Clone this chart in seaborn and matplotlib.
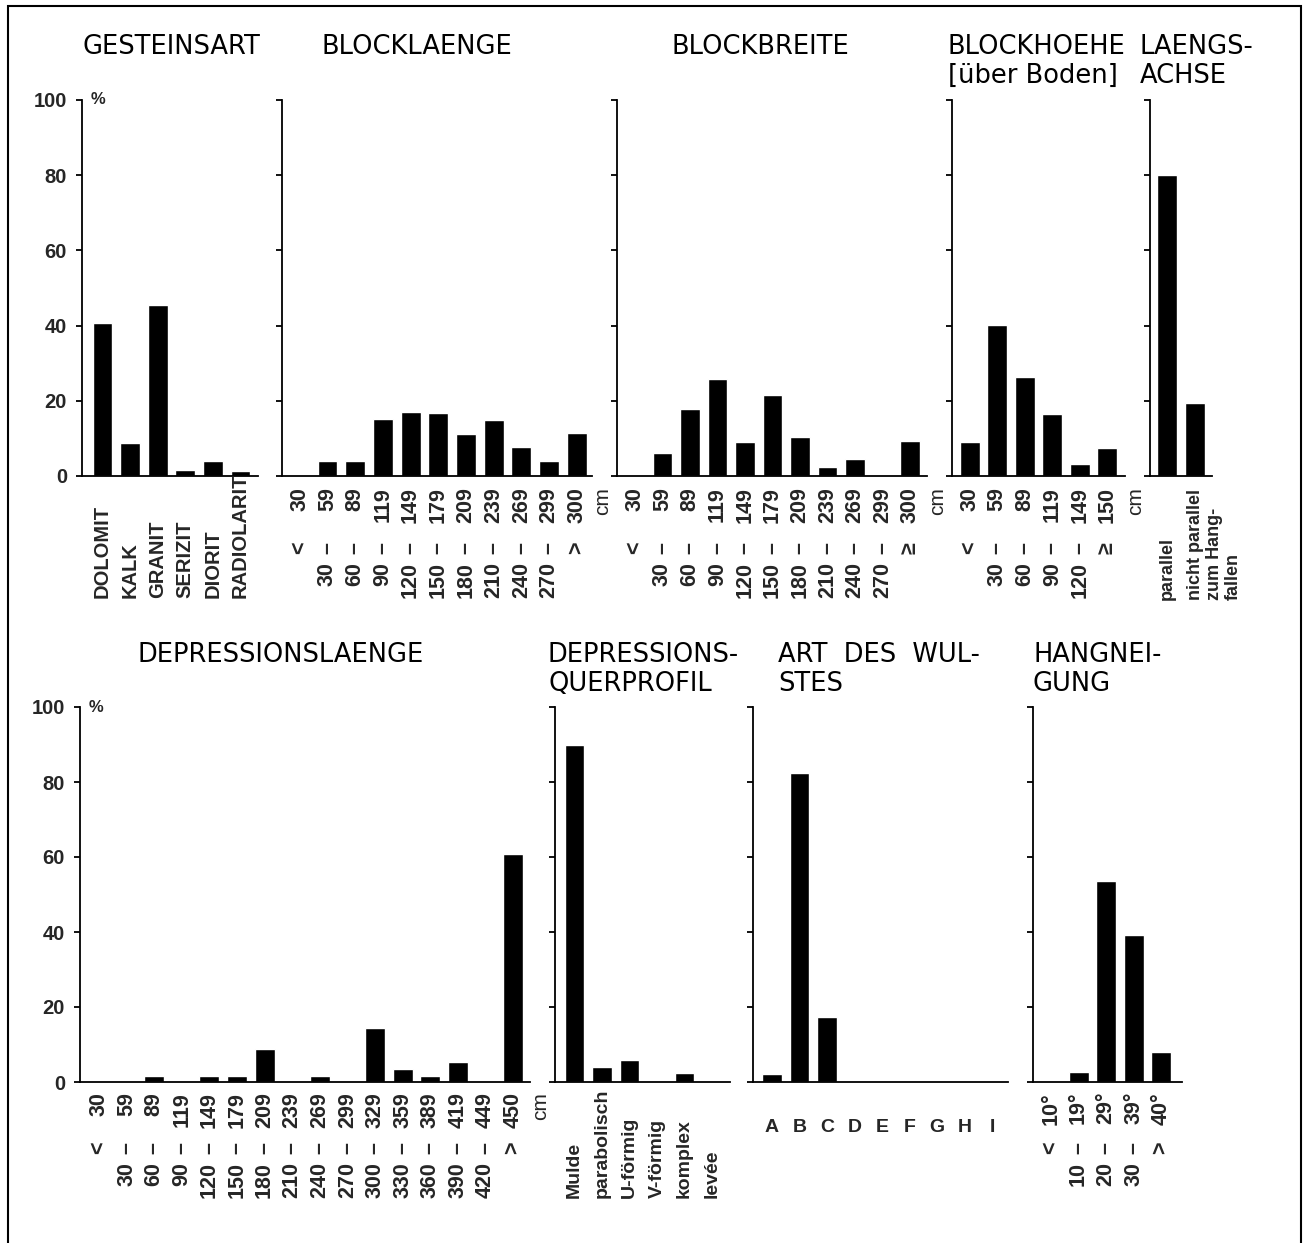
import matplotlib
matplotlib.use('Agg')
import matplotlib.pyplot as plt
import seaborn as sns
import pandas as pd
from matplotlib.patches import Rectangle

W, H, DPI = 1304, 1243, 100

# ---- data (in %) ----
gestein_cats = ['DOLOMIT', 'KALK', 'GRANIT', 'SERIZIT', 'DIORIT', 'RADIOLARIT']
gestein_vals = [40.8, 8.7, 45.4, 1.6, 3.9, 1.3]

laenge_cats = ['< 30', '30 – 59', '60 – 89', '90 – 119', '120 – 149', '150 – 179',
               '180 – 209', '210 – 239', '240 – 269', '270 – 299', '> 300']
laenge_vals = [0, 3.9, 3.9, 15.2, 17.1, 16.7, 11.2, 15.0, 7.6, 3.9, 11.5]

breite_cats = ['< 30', '30 – 59', '60 – 89', '90 – 119', '120 – 149', '150 – 179',
               '180 – 209', '210 – 239', '240 – 269', '270 – 299', '≥ 300']
breite_vals = [0, 6.1, 17.8, 25.8, 9.1, 21.5, 10.5, 2.5, 4.5, 0, 9.2]

hoehe_cats = ['< 30', '30 – 59', '60 – 89', '90 – 119', '120 – 149', '≥ 150']
hoehe_vals = [9.0, 40.2, 26.2, 16.5, 3.3, 7.4]

achse_cats = ['parallel', 'nicht parallel\nzum Hang-\nfallen']
achse_vals = [80.0, 19.3]

dep_cats = ['< 30', '30 – 59', '60 – 89', '90 – 119', '120 – 149', '150 – 179',
            '180 – 209', '210 – 239', '240 – 269', '270 – 299', '300 – 329',
            '330 – 359', '360 – 389', '390 – 419', '420 – 449', '> 450']
dep_vals = [0, 0, 1.5, 0, 1.7, 1.6, 8.8, 0, 1.5, 0, 14.3, 3.4, 1.7, 5.4, 0, 60.8]

profil_cats = ['Mulde', 'parabolisch', 'U-förmig', 'V-förmig', 'komplex', 'levée']
profil_vals = [90.0, 4.0, 5.9, 0, 2.5, 0]

wulst_cats = ['A', 'B', 'C', 'D', 'E', 'F', 'G', 'H', 'I']
wulst_vals = [2.2, 82.5, 17.4, 0, 0, 0, 0, 0, 0]

neigung_cats = ['< 10°', '10 – 19°', '20 – 29°', '30 – 39°', '> 40°']
neigung_vals = [0, 2.6, 53.7, 39.1, 8.1]

sns.set_style('white')
plt.rcParams['font.family'] = ['DejaVu Sans']
TICKFONT = ['Liberation Sans', 'DejaVu Sans']

fig = plt.figure(figsize=(W / DPI, H / DPI), dpi=DPI)


def pt(pixels):
    return pixels * 72 / DPI


def panel(x_axis, c0, slot, x_end, y_base, y_top, cats, vals, first=False):
    ax = fig.add_axes([x_axis / W, 1 - y_base / H, (x_end - x_axis) / W, (y_base - y_top) / H])
    df = pd.DataFrame({'cat': cats, 'val': vals})
    sns.barplot(data=df, x='cat', y='val', color='black', saturation=1,
                width=0.72, errorbar=None, ax=ax)
    ax.set_xlim((x_axis - c0) / slot, (x_end - c0) / slot)
    ax.set_ylim(0, 100)
    ax.set_xlabel('')
    ax.set_ylabel('')
    sns.despine(ax=ax)
    for s in ['left', 'bottom']:
        ax.spines[s].set_linewidth(1.3)
        ax.spines[s].set_color('black')
    ax.set_yticks([0, 20, 40, 60, 80, 100])
    ax.tick_params(axis='x', length=0, labelbottom=False)
    ax.tick_params(axis='y', left=True, direction='out', length=pt(6), width=1.3,
                   color='black', pad=pt(9), labelleft=first)
    if first:
        for lab in ax.get_yticklabels():
            lab.set_fontfamily(TICKFONT)
            lab.set_fontweight('bold')
            lab.set_fontsize(14.5)
        ax.annotate('%', (0, 1), xycoords='axes fraction', xytext=(pt(9), 0),
                    textcoords='offset points', ha='left', va='center',
                    fontsize=12, fontweight='bold', family=TICKFONT)
    return ax


def lab(ax, text, i, off, **kw):
    style = dict(rotation=90, ha='center', fontsize=15.5, fontweight='bold', family=TICKFONT)
    style.update(kw)
    ax.annotate(text, (i, 0), xycoords=('data', 'axes fraction'), xytext=(0, -pt(off)),
                textcoords='offset points', **style)


def range_labels(ax, cats, hi_off, sep_off, lo_off, unit=True):
    for i, c in enumerate(cats):
        if ' – ' in c:
            lo, hi = c.split(' – ')
            sep = '–'
        else:
            sep, hi = c.split(' ', 1)
            lo = ''
        lab(ax, hi, i, hi_off, va='top')
        lab(ax, sep, i, sep_off, va='center')
        if lo:
            lab(ax, lo, i, lo_off, va='top')
    if unit:
        ax.annotate('cm', (1, 0), xycoords='axes fraction', xytext=(pt(1), -pt(hi_off)),
                    textcoords='offset points', rotation=90, ha='left', va='top',
                    fontsize=15, family=TICKFONT)


def title(x, y, text):
    fig.text(x / W, 1 - y / H, text, ha='left', va='top', fontsize=18.5,
             color='black', linespacing=1.15)


# ---- top row ----
TB, TT = 476, 100
ax1 = panel(82, 102.5, 27.6, 258, TB, TT, gestein_cats, gestein_vals, first=True)
for i, c in enumerate(gestein_cats):
    lab(ax1, c, i, 122, va='bottom', fontsize=14.5)

ax2 = panel(282, 299.8, 27.7, 592, TB, TT, laenge_cats, laenge_vals)
range_labels(ax2, laenge_cats, 11, 72, 86)

ax3 = panel(617, 635, 27.5, 927, TB, TT, breite_cats, breite_vals)
range_labels(ax3, breite_cats, 11, 72, 86)

ax4 = panel(952, 969.8, 27.5, 1125, TB, TT, hoehe_cats, hoehe_vals)
range_labels(ax4, hoehe_cats, 11, 72, 86)

ax5 = panel(1150, 1167, 27.7, 1212, TB, TT, achse_cats, achse_vals)
lab(ax5, achse_cats[0], 0, 124, va='bottom', fontsize=13)
ax5.annotate(achse_cats[1], (1, 0), xycoords=('data', 'axes fraction'),
             xytext=(-pt(8), -pt(124)), textcoords='offset points', rotation=90,
             ha='left', va='bottom', multialignment='left', linespacing=1.15,
             fontsize=13, fontweight='bold', family=TICKFONT)

title(82, 34, 'GESTEINSART')
title(322, 34, 'BLOCKLAENGE')
title(672, 34, 'BLOCKBREITE')
title(948, 34, 'BLOCKHOEHE\n[über Boden]')
title(1140, 34, 'LAENGS-\nACHSE')

# ---- bottom row ----
BB, BT = 1082, 707
ax6 = panel(80, 99, 27.6, 530, BB, BT, dep_cats, dep_vals, first=True)
range_labels(ax6, dep_cats, 10, 66, 80)

ax7 = panel(555, 574.5, 27.5, 730, BB, BT, profil_cats, profil_vals)
for i, c in enumerate(profil_cats):
    lab(ax7, c, i, 116, va='bottom', fontsize=14)

ax8 = panel(753, 772, 27.5, 1008, BB, BT, wulst_cats, wulst_vals)
for i, c in enumerate(wulst_cats):
    lab(ax8, c, i, 46, va='center', rotation=0, fontsize=14)

ax9 = panel(1033, 1051, 27.6, 1182, BB, BT, neigung_cats, neigung_vals)
range_labels(ax9, neigung_cats, 10, 66, 80, unit=False)

title(137, 642, 'DEPRESSIONSLAENGE')
title(548, 642, 'DEPRESSIONS-\nQUERPROFIL')
title(778, 642, 'ART  DES  WUL-\nSTES')
title(1033, 642, 'HANGNEI-\nGUNG')

# frame around the whole figure (bottom edge falls off the page)
fig.add_artist(Rectangle((8 / W, -0.01), (1301 - 8) / W, 1.01 - 6 / H,
                         transform=fig.transFigure, fill=False,
                         edgecolor='black', linewidth=1.5))

fig.savefig('out.png', dpi=DPI, facecolor='white')
